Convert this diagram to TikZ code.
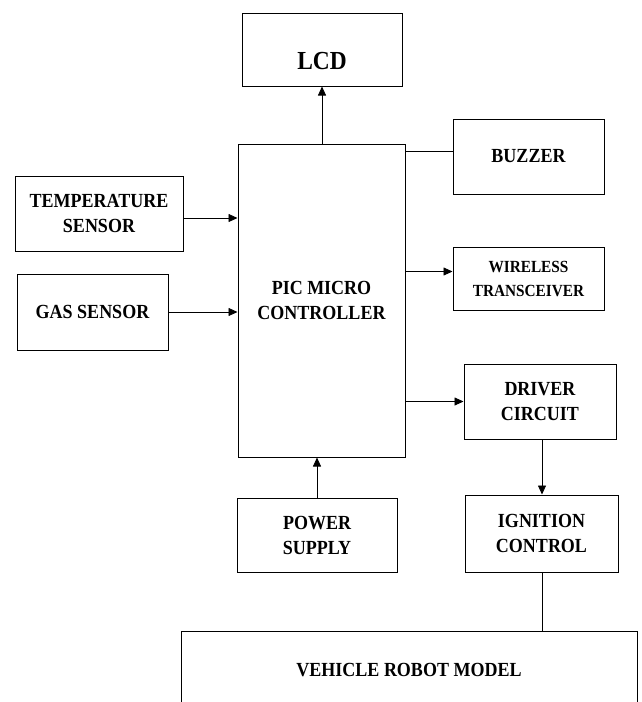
\documentclass[tikz,border=0pt]{standalone}
\usepackage{fontspec}
\setmainfont{Liberation Serif}[FakeStretch=0.9]
\usetikzlibrary{arrows.meta}

\begin{document}
\begin{tikzpicture}[x=1pt, y=-1pt,
    box/.style={draw, line width=1pt, align=center, inner sep=2pt,
        font=\fontsize{20}{25}\selectfont\bfseries},
    >={Triangle[length=9pt, width=8pt]}]
    % Fix the page size and cut off the bottom of the vehicle box
    \useasboundingbox (0,0) rectangle (641,702);
    \clip (0,0) rectangle (641,702);

    % Place the controller and the blocks round it
    \node (ctrl) [box, minimum width=167pt, minimum height=313pt] at (321.5,300.5) {PIC MICRO\\CONTROLLER};
    \node (lcd) [box, minimum width=160pt, minimum height=73pt, text height=39pt, text depth=0pt,
        font=\fontsize{26}{28}\selectfont\bfseries] at (322,49.5) {LCD};
    \node (temp) [box, minimum width=168pt, minimum height=75pt] at (99,213.5) {TEMPERATURE\\SENSOR};
    \node (gas) [box, minimum width=151pt, minimum height=76pt] at (92.5,312) {GAS SENSOR};
    \node (buzzer) [box, minimum width=151pt, minimum height=75pt] at (528.5,156.5) {BUZZER};
    \node (wireless) [box, minimum width=151pt, minimum height=63pt,
        font=\fontsize{17}{24}\selectfont\bfseries] at (528.5,278.5) {WIRELESS\\TRANSCEIVER};
    \node (driver) [box, minimum width=152pt, minimum height=75pt] at (540,401.5) {DRIVER\\CIRCUIT};
    \node (ignition) [box, minimum width=153pt, minimum height=77pt] at (541.5,533.5) {IGNITION\\CONTROL};
    \node (power) [box, minimum width=160pt, minimum height=74pt] at (317,535) {POWER\\SUPPLY};
    \node (vehicle) [box, minimum width=456pt, minimum height=78pt] at (409,670) {VEHICLE ROBOT MODEL};

    % Draw the arrows
    \draw[->, thick] (lcd.south |- ctrl.north) -- (lcd.south);
    \draw[->, thick] ([yshift=-4.5pt]temp.east) -- ([yshift=-4.5pt]temp.east -| ctrl.west);
    \draw[->, thick] (gas.east) -- (gas.east -| ctrl.west);
    \draw[thick] ([yshift=5.5pt]buzzer.west -| ctrl.east) -- ([yshift=5.5pt]buzzer.west);
    \draw[->, thick] ([yshift=7pt]wireless.west -| ctrl.east) -- ([yshift=7pt]wireless.west);
    \draw[->, thick] (driver.west -| ctrl.east) -- (driver.west);
    \draw[->, thick] (power.north) -- (power.north |- ctrl.south);
    \draw[->, thick] ([xshift=2pt]driver.south) -- ([xshift=2pt]driver.south |- ignition.north);
    \draw[thick] ([xshift=1pt]ignition.south) -- ([xshift=1pt]ignition.south |- vehicle.north);
\end{tikzpicture}
\end{document}
